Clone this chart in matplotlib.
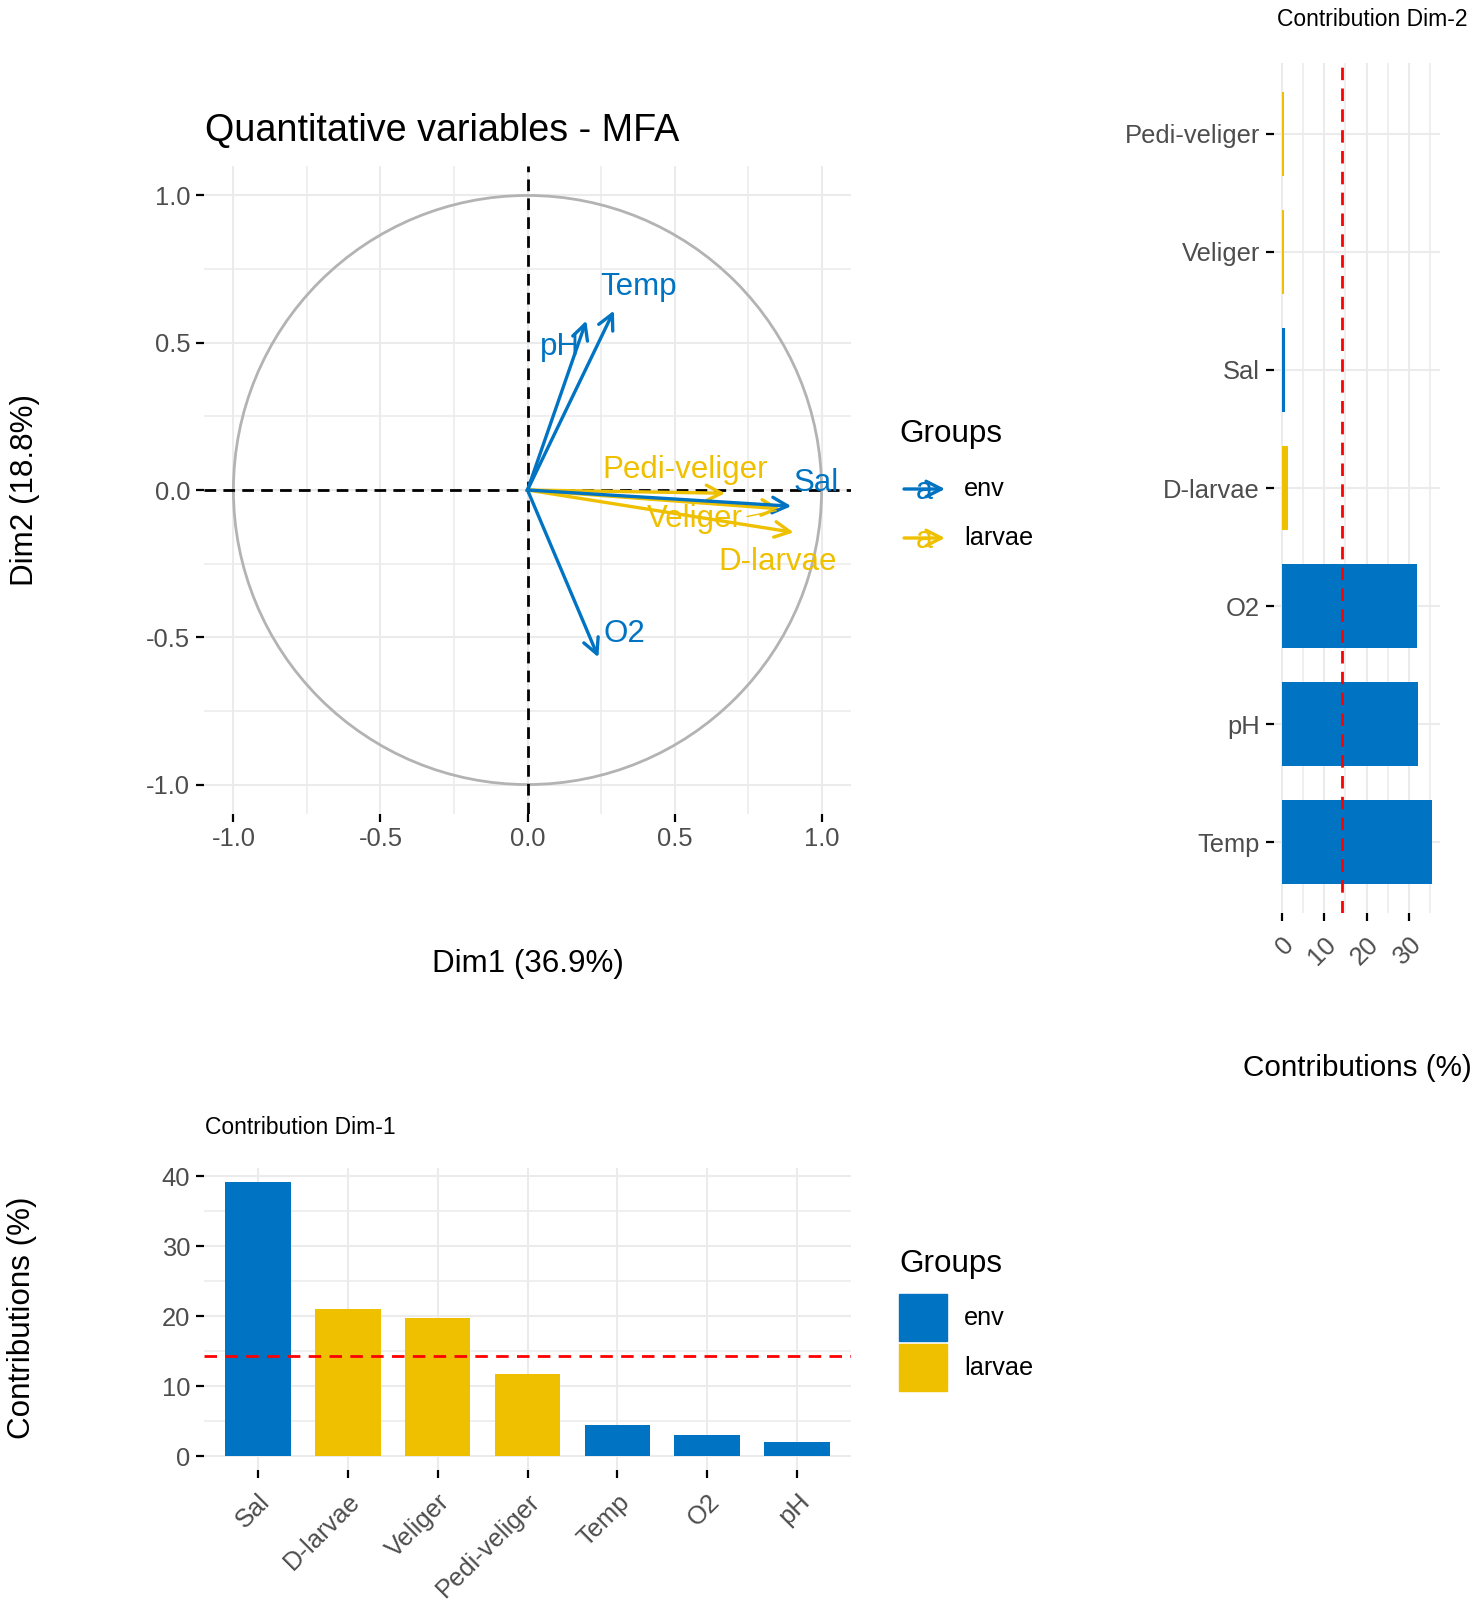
import matplotlib
matplotlib.use("Agg")
import matplotlib.pyplot as plt
from matplotlib.patches import Circle, Rectangle
from matplotlib.ticker import FixedLocator
import numpy as np

plt.rcParams['font.family'] = ['Liberation Sans', 'DejaVu Sans']
plt.rcParams['axes.unicode_minus'] = False

# ---------------- data ----------------
var_names = ["Sal", "D-larvae", "Veliger", "Pedi-veliger", "Temp", "O2", "pH"]
var_groups = ["env", "larvae", "larvae", "larvae", "env", "env", "env"]
dim1_coord = [0.897, 0.905, 0.860, 0.672, 0.294, 0.241, 0.200]
dim2_coord = [-0.055, -0.144, -0.064, -0.011, 0.609, -0.568, 0.575]

contrib1_names = ["Sal", "D-larvae", "Veliger", "Pedi-veliger", "Temp", "O2", "pH"]
contrib1_groups = ["env", "larvae", "larvae", "larvae", "env", "env", "env"]
contrib1_values = [39.2, 21.0, 19.7, 11.8, 4.4, 3.05, 2.05]

contrib2_names = ["Temp", "pH", "O2", "D-larvae", "Sal", "Veliger", "Pedi-veliger"]
contrib2_groups = ["env", "env", "env", "larvae", "env", "larvae", "larvae"]
contrib2_values = [35.5, 32.1, 31.9, 1.5, 0.8, 0.65, 0.55]

expected_contrib = 100 / 7

circle_ticks = [-1.0, -0.5, 0.0, 0.5, 1.0]
circle_tick_labels = ["-1.0", "-0.5", "0.0", "0.5", "1.0"]
contrib1_ticks = [0, 10, 20, 30, 40]
contrib2_ticks = [0, 10, 20, 30]

group_names = ["env", "larvae"]
group_colors = {"env": "#0073C2", "larvae": "#EFC000"}

# ---------------- layout helpers ----------------
W, H = 1476, 1600
fig = plt.figure(figsize=(W / 100, H / 100), dpi=100)
fig.patch.set_facecolor("white")

def fx(x):
    return x / W

def fy(y):
    return 1 - y / H

GRID = "#EBEBEB"
TICKC = "#4D4D4D"
TICK_FS = 18.4
AXT_FS = 22.6

def style_axes(ax):
    for s in ax.spines.values():
        s.set_visible(False)
    ax.set_facecolor("white")
    ax.tick_params(which="major", length=6, width=1.6, color="black",
                   labelsize=TICK_FS, labelcolor=TICKC, pad=4)
    ax.tick_params(which="minor", length=0)
    ax.set_axisbelow(True)

# ---------------- correlation circle ----------------
ax1 = fig.add_axes([fx(204), fy(814), 647 / W, 648 / H])
style_axes(ax1)
ax1.set_xlim(-1.1, 1.1)
ax1.set_ylim(-1.1, 1.1)
ax1.xaxis.set_major_locator(FixedLocator(circle_ticks))
ax1.yaxis.set_major_locator(FixedLocator(circle_ticks))
ax1.set_xticklabels(circle_tick_labels)
ax1.set_yticklabels(circle_tick_labels)
ax1.xaxis.set_minor_locator(FixedLocator([-0.75, -0.25, 0.25, 0.75]))
ax1.yaxis.set_minor_locator(FixedLocator([-0.75, -0.25, 0.25, 0.75]))
ax1.grid(which="major", color=GRID, lw=1.5)
ax1.grid(which="minor", color=GRID, lw=1.1)
ax1.tick_params(axis="x", pad=3)

ax1.add_patch(Circle((0, 0), 1, fill=False, color="#B3B3B3", lw=2.0, zorder=2))
ax1.axhline(0, color="black", lw=2, dashes=(4.2, 2.6), zorder=3)
ax1.axvline(0, color="black", lw=2, dashes=(4.2, 2.6), zorder=3)

label_pos = {
    "Temp": (0.378, 0.689),
    "pH": (0.111, 0.484),
    "Pedi-veliger": (0.535, 0.069),
    "Sal": (0.983, 0.024),
    "Veliger": (0.569, -0.100),
    "D-larvae": (0.851, -0.246),
    "O2": (0.330, -0.488),
}
draw_order = ["Veliger", "Pedi-veliger", "D-larvae", "Sal", "Temp", "pH", "O2"]
for name in draw_order:
    i = var_names.index(name)
    c = group_colors[var_groups[i]]
    ax1.annotate("", xy=(dim1_coord[i], dim2_coord[i]), xytext=(0, 0),
                 arrowprops=dict(arrowstyle="->,head_length=0.55,head_width=0.28",
                                 lw=2.4, color=c, shrinkA=0, shrinkB=0,
                                 mutation_scale=20), zorder=4)
for name in var_names:
    i = var_names.index(name)
    c = group_colors[var_groups[i]]
    lx, ly = label_pos[name]
    ax1.text(lx, ly, name, color=c, fontsize=22.5, ha="center", va="center", zorder=5)
# repel segment for Veliger
iv = var_names.index("Veliger")
ax1.plot([0.747, dim1_coord[iv] - 0.015], [-0.09, dim2_coord[iv] - 0.006],
         color=group_colors["larvae"], lw=1.0, zorder=5)

fig.text(fx(205), fy(131), "Quantitative variables - MFA", fontsize=27.2,
         ha="left", va="center")
fig.text(fx(528), fy(964), "Dim1 (36.9%)", fontsize=AXT_FS, ha="center", va="center")
fig.text(fx(25.5), fy(490), "Dim2 (18.8%)", fontsize=AXT_FS, ha="center", va="center",
         rotation=90)

# ---------------- contribution Dim-1 ----------------
ax2 = fig.add_axes([fx(204), fy(1470), 647 / W, 302 / H])
style_axes(ax2)
x2 = np.arange(len(contrib1_names))
ax2.bar(x2, contrib1_values, width=0.73,
        color=[group_colors[g] for g in contrib1_groups], zorder=2)
m1 = max(contrib1_values)
ax2.set_ylim(-0.05 * m1, 1.05 * m1)
ax2.set_xlim(-0.6, len(contrib1_names) - 0.4)
ax2.set_xticks(x2)
ax2.set_xticklabels(contrib1_names, rotation=45, ha="right", rotation_mode="anchor")
ax2.yaxis.set_major_locator(FixedLocator(contrib1_ticks))
ax2.yaxis.set_minor_locator(FixedLocator([5, 15, 25, 35]))
ax2.grid(which="major", color=GRID, lw=1.5)
ax2.grid(which="minor", axis="y", color=GRID, lw=1.1)
ax2.axhline(expected_contrib, color="red", lw=2, dashes=(4.5, 3), zorder=3)
ax2.tick_params(axis="x", pad=8)

fig.text(fx(205), fy(1127), "Contribution Dim-1", fontsize=16.5, ha="left", va="center")
fig.text(fx(22.5), fy(1318), "Contributions (%)", fontsize=AXT_FS, ha="center",
         va="center", rotation=90)

# ---------------- contribution Dim-2 ----------------
ax3 = fig.add_axes([fx(1274), fy(913), 166 / W, 850 / H])
style_axes(ax3)
y3 = np.arange(len(contrib2_names))
ax3.barh(y3, contrib2_values, height=0.71,
         color=[group_colors[g] for g in contrib2_groups], zorder=2)
m2 = max(contrib2_values)
ax3.set_xlim(-0.05 * m2, 1.05 * m2)
ax3.set_ylim(-0.6, len(contrib2_names) - 0.4)
ax3.set_yticks(y3)
ax3.set_yticklabels(contrib2_names)
ax3.xaxis.set_major_locator(FixedLocator(contrib2_ticks))
ax3.xaxis.set_minor_locator(FixedLocator([5, 15, 25, 35]))
ax3.set_xticklabels([str(t) for t in contrib2_ticks], rotation=45, ha="right",
                    rotation_mode="anchor")
ax3.grid(which="major", color=GRID, lw=1.5)
ax3.grid(which="minor", axis="x", color=GRID, lw=1.1)
ax3.axvline(expected_contrib, color="red", lw=2, dashes=(4.5, 3), zorder=3)
ax3.tick_params(axis="x", pad=8)

fig.text(fx(1277), fy(20), "Contribution Dim-2", fontsize=16.5, ha="left", va="center")
fig.text(fx(1357), fy(1068), "Contributions (%)", fontsize=21.3, ha="center", va="center")

# ---------------- legends ----------------
lg = fig.add_axes([0, 0, 1, 1], facecolor="none")
lg.set_xlim(0, W)
lg.set_ylim(H, 0)
lg.axis("off")

# arrow legend (circle plot)
lg.text(899, 434, "Groups", fontsize=AXT_FS, ha="left", va="center")
for k, g in enumerate(group_names):
    yy = 489 + k * 49
    c = group_colors[g]
    lg.annotate("", xy=(945, yy), xytext=(904, yy),
                arrowprops=dict(arrowstyle="->,head_length=0.55,head_width=0.28",
                                lw=2.4, color=c, shrinkA=0, shrinkB=0,
                                mutation_scale=20))
    lg.text(924, yy + 2, "a", color=c, fontsize=22, ha="center", va="center")
    lg.text(964, yy, g, fontsize=18.2, ha="left", va="center")

# fill legend (bar plot)
lg.text(899, 1264, "Groups", fontsize=AXT_FS, ha="left", va="center")
for k, g in enumerate(group_names):
    y0 = 1294 + k * 50
    lg.add_patch(Rectangle((899, y0), 48, 47, color=group_colors[g]))
    lg.text(964, y0 + 24, g, fontsize=18.2, ha="left", va="center")

fig.savefig("out.png", dpi=100)
